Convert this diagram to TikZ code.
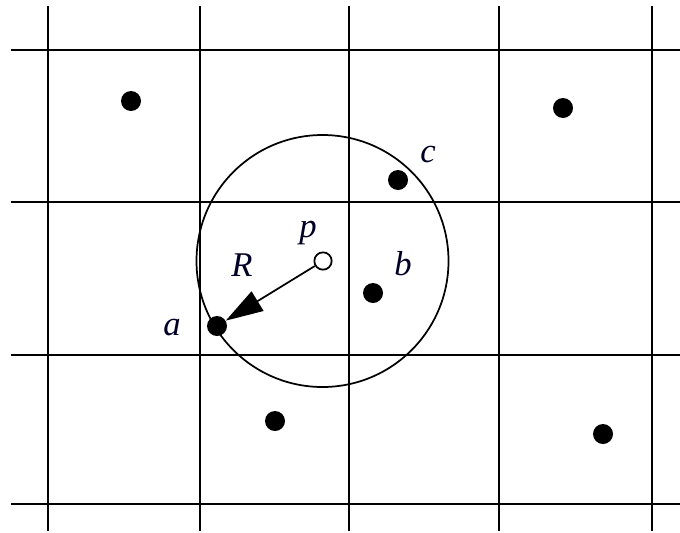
\documentclass[tikz,border=0pt]{standalone}
\usepackage{fontspec}
\setmainfont{Liberation Serif}
\usepackage{tikz}
\usetikzlibrary{arrows.meta}

\begin{document}
\begin{tikzpicture}[x=0.75pt,y=-0.75pt,font=\fontsize{26}{29}\selectfont\itshape]
\tikzset{
  dot/.style={circle,fill=black,inner sep=0pt,minimum size=15pt},
  query/.style={circle,draw=black,fill=white,line width=1.3pt,inner sep=0pt,minimum size=13pt},
  lab/.style={inner sep=0pt,text=black!85!blue}
}
\useasboundingbox (0,0) rectangle (680,532);
% grid
\foreach \xv in {48,200,349,499,652}{ \draw[line width=1.5pt] (\xv,6)--(\xv,531);}
\foreach \yv in {50,202,355,504}{ \draw[line width=1.5pt] (11,\yv)--(680,\yv);}
% range circle round p
\draw[line width=1.3pt] (322.5,261) circle[radius=94.5pt];
% points
\node[dot] (d1) at (131,101) {};
\node[dot] (d2) at (563,108) {};
\node[dot] (c) at (398,180) {};
\node[dot] (b) at (373,293) {};
\node[dot] (a) at (217,326) {};
\node[dot] (d3) at (275,421) {};
\node[dot] (d4) at (603,434) {};
\node[query] (p) at (323,261) {};
% radius
\draw[line width=1.3pt,-{Triangle[length=28pt,width=17pt]}] (p) -- (a);
% labels
\node[lab] (lp) at (308,233) {p};
\node[lab] (lR) at (242,265) {R};
\node[lab] (la) at (172,328) {a};
\node[lab] (lb) at (403,264) {b};
\node[lab] (lc) at (428,154) {c};
\end{tikzpicture}
\end{document}
